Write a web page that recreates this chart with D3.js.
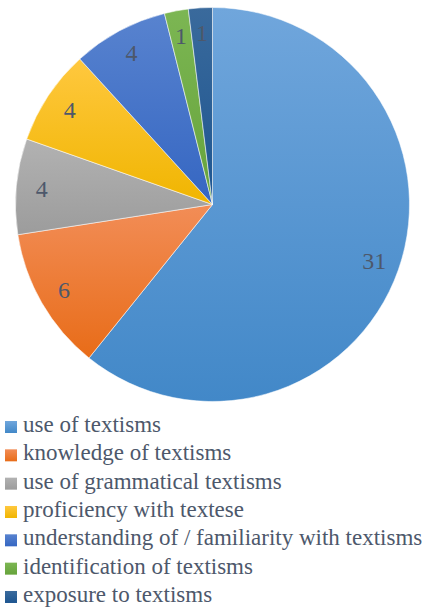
<!DOCTYPE html>
<html>
<head>
<meta charset="utf-8">
<script src="https://cdn.jsdelivr.net/npm/d3@7"></script>
<style>
  .serif { font-family: "Liberation Serif" !important; }
</style>
</head>
<body style="margin:0">
<svg id="chart" width="427" height="607"></svg>
<script>
// Categories and counts, in drawing order (clockwise from 12 o'clock)
const categories = [
  "use of textisms",
  "knowledge of textisms",
  "use of grammatical textisms",
  "proficiency with textese",
  "understanding of / familiarity with textisms",
  "identification of textisms",
  "exposure to textisms"
];
const counts = [31, 6, 4, 4, 4, 1, 1];
// top / bottom gradient stops for each slice
const colorsTop    = ["#70a6dc", "#f28d57", "#b2b2b2", "#ffc83f", "#5883cf", "#7cb653", "#3a6a9c"];
const colorsBottom = ["#4288c8", "#e86c18", "#9c9c9c", "#f0b500", "#3566c2", "#66a33b", "#1d5590"];

const svg = d3.select("#chart");
const cx = 212.5, cy = 204.5, R = 197;
const textColor = "#4d586b";

const data = categories.map((c, i) => ({ name: c, value: counts[i], i }));

const defs = svg.append("defs");
data.forEach(d => {
  const g = defs.append("linearGradient")
    .attr("id", "grad" + d.i)
    .attr("x1", 0).attr("y1", 0).attr("x2", 0).attr("y2", 1);
  g.append("stop").attr("offset", "0%").attr("stop-color", colorsTop[d.i]);
  g.append("stop").attr("offset", "100%").attr("stop-color", colorsBottom[d.i]);
});

const pie = d3.pie().sort(null).value(d => d.value);
const arcs = pie(data);
const arc = d3.arc().innerRadius(0).outerRadius(R);
const labelArc = d3.arc().innerRadius(R * 0.87).outerRadius(R * 0.87);

const g = svg.append("g").attr("transform", `translate(${cx},${cy})`);

g.selectAll("path.slice")
  .data(arcs)
  .join("path")
  .attr("class", "slice")
  .attr("d", arc)
  .attr("fill", d => `url(#grad${d.data.i})`)
  .attr("stroke", "#ffffff")
  .attr("stroke-width", 0.75)
  .attr("stroke-opacity", 0.7);

g.selectAll("text.value")
  .data(arcs)
  .join("text")
  .attr("class", "value serif")
  .attr("font-family", "Liberation Serif")
  .attr("transform", d => `translate(${labelArc.centroid(d)})`)
  .attr("text-anchor", "middle")
  .attr("dy", "0.33em")
  .attr("font-size", 24)
  .attr("fill", textColor)
  .text(d => d.data.value);

// Legend
const legend = svg.append("g").attr("transform", "translate(5,432)");
const rowH = 28.33;
const rows = legend.selectAll("g.row")
  .data(data)
  .join("g")
  .attr("class", "row")
  .attr("transform", d => `translate(0,${d.i * rowH})`);

rows.append("rect")
  .attr("y", -11)
  .attr("width", 12).attr("height", 12)
  .attr("fill", d => `url(#grad${d.i})`);

rows.append("text")
  .attr("class", "serif")
  .attr("font-family", "Liberation Serif")
  .attr("x", 18)
  .attr("y", 0)
  .attr("font-size", 23)
  .attr("fill", textColor)
  .text(d => d.name);
</script>
</body>
</html>
